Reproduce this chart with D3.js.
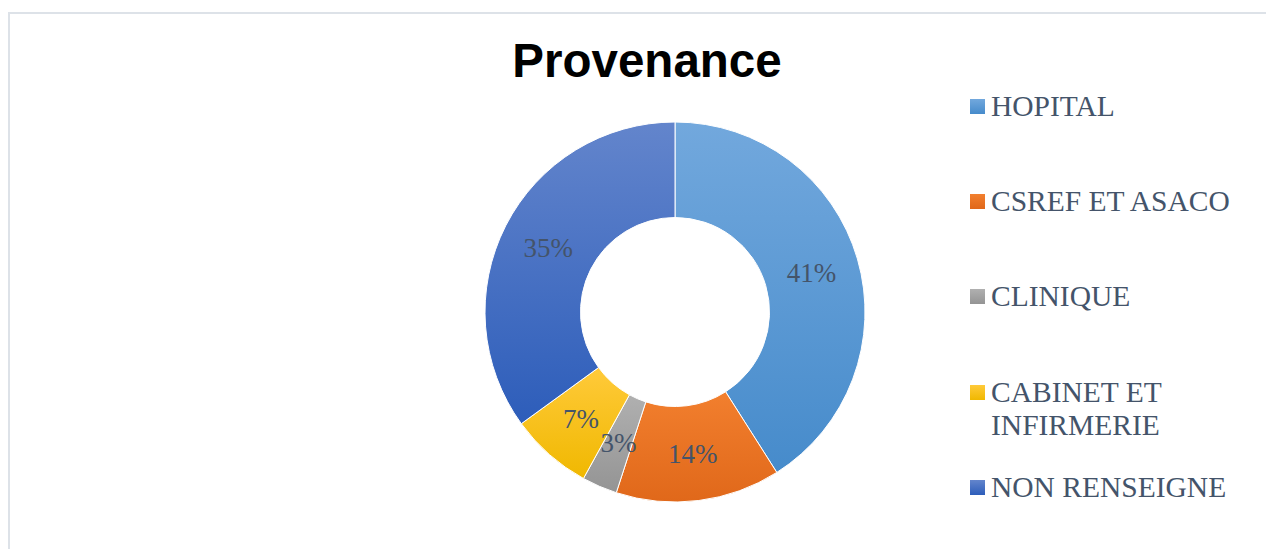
<!DOCTYPE html>
<html>
<head>
<meta charset="utf-8">
<script src="https://cdn.jsdelivr.net/npm/d3@7/dist/d3.min.js"></script>
<style>
  html, body { margin: 0; padding: 0; background: #ffffff; }
  svg { display: block; }
</style>
</head>
<body>
<svg id="chart" width="1266" height="549"></svg>
<script>
// Provenance of patients, share of total (percent)
const categories = ["HOPITAL", "CSREF ET ASACO", "CLINIQUE", "CABINET ET INFIRMERIE", "NON RENSEIGNE"];
const values = [41, 14, 3, 7, 35];
const legendLines = [["HOPITAL"], ["CSREF ET ASACO"], ["CLINIQUE"], ["CABINET ET", "INFIRMERIE"], ["NON RENSEIGNE"]];
// light (top) and dark (bottom) stops of each slice's fill
const colorsTop = ["#72a8dd", "#f27f2e", "#b0b0b0", "#ffca3a", "#6385cc"];
const colorsBottom = ["#468bcb", "#e0681a", "#949494", "#f0b800", "#2d5dba"];

const svg = d3.select("#chart");
const W = 1266, H = 549;
const textColor = "#44546a";

// frame: only top and left edges show
svg.append("path")
  .attr("d", `M9,${H} L9,13 L${W},13`)
  .attr("fill", "none")
  .attr("stroke", "#dde2e8")
  .attr("stroke-width", 2);

// gradients
const defs = svg.append("defs");
categories.forEach((c, i) => {
  const g = defs.append("linearGradient")
    .attr("id", "grad" + i)
    .attr("x1", 0).attr("y1", 0).attr("x2", 0).attr("y2", 1);
  g.append("stop").attr("offset", "0%").attr("stop-color", colorsTop[i]);
  g.append("stop").attr("offset", "100%").attr("stop-color", colorsBottom[i]);
});

// title
svg.append("text")
  .attr("x", 647)
  .attr("y", 77)
  .attr("text-anchor", "middle")
  .attr("font-family", "'Liberation Sans', Arial, sans-serif")
  .attr("font-weight", "bold")
  .attr("font-size", 47.5)
  .attr("fill", "#000000")
  .text("Provenance");

// donut
const cx = 675, cy = 312, outerR = 190, innerR = 94.5;
const pie = d3.pie().sort(null).value(d => d.value);
const arcs = pie(categories.map((c, i) => ({ name: c, value: values[i], i })));
const arc = d3.arc().innerRadius(innerR).outerRadius(outerR);
const total = d3.sum(values);

const g = svg.append("g").attr("transform", `translate(${cx},${cy})`);

g.selectAll("path.slice")
  .data(arcs)
  .join("path")
  .attr("class", "slice")
  .attr("d", arc)
  .attr("fill", d => `url(#grad${d.data.i})`)
  .attr("stroke", "#ffffff")
  .attr("stroke-width", 1);

g.selectAll("text.lbl")
  .data(arcs)
  .join("text")
  .attr("class", "lbl")
  .attr("transform", d => { const [x, y] = arc.centroid(d); return `translate(${x},${y})`; })
  .attr("dy", "0.36em")
  .attr("text-anchor", "middle")
  .attr("font-family", "'Liberation Serif', 'Times New Roman', serif")
  .attr("font-size", 27)
  .attr("fill", textColor)
  .text(d => Math.round(d.data.value / total * 100) + "%");

// legend
const legendY = [116, 211, 306, 402, 497];
const legend = svg.append("g");
categories.forEach((c, i) => {
  legend.append("rect")
    .attr("x", 970)
    .attr("y", legendY[i] - 17)
    .attr("width", 15)
    .attr("height", 15)
    .attr("fill", `url(#grad${i})`);
  const t = legend.append("text")
    .attr("x", 991)
    .attr("y", legendY[i])
    .attr("font-family", "'Liberation Serif', 'Times New Roman', serif")
    .attr("font-size", 29.5)
    .attr("fill", textColor);
  legendLines[i].forEach((line, k) => {
    t.append("tspan")
      .attr("x", 991)
      .attr("y", legendY[i] + k * 32.6)
      .text(line);
  });
});
</script>
</body>
</html>
